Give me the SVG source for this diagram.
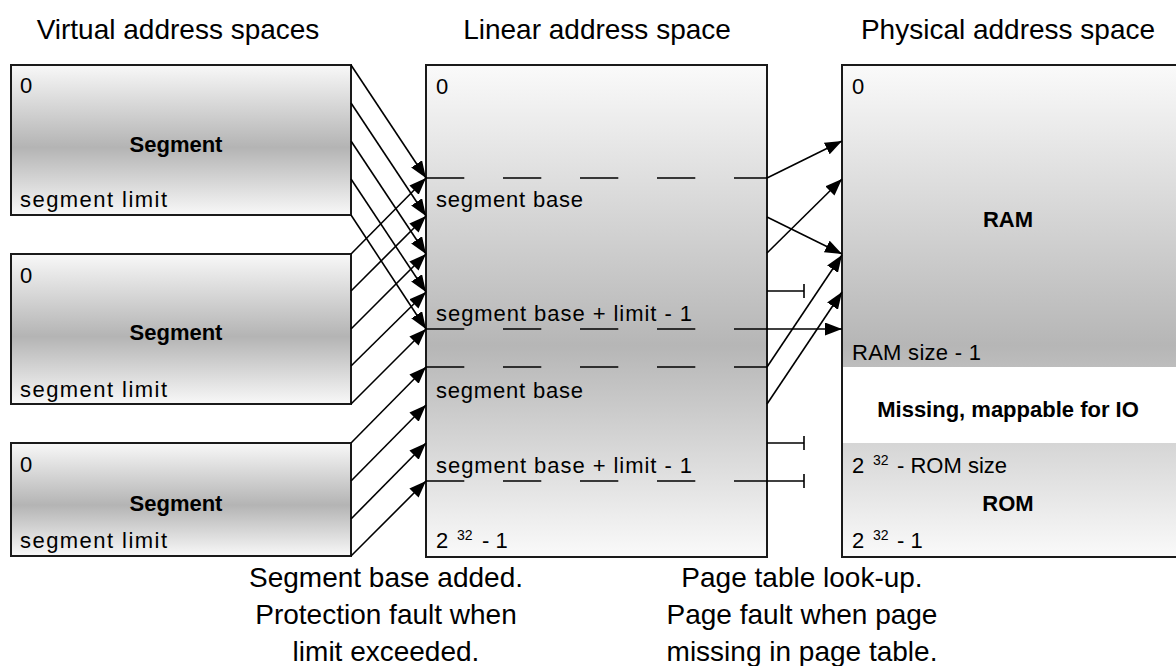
<svg xmlns="http://www.w3.org/2000/svg" width="1176" height="666" viewBox="0 0 1176 666">
<defs>
<style>
text{font-family:"Liberation Sans",Arial,sans-serif;fill:#000}
.lbl{font-size:22px}
.b{font-size:22px;font-weight:bold}
.title{font-size:28px}
.sup{font-size:14px}
.box{stroke:#1a1a1a;stroke-width:2}
.conn{stroke:#000;stroke-width:1.6;fill:none}
.dash{stroke:#000;stroke-width:1.6;fill:none;stroke-dasharray:38.3 38.7}
</style>
<linearGradient id="gSeg" x1="0" y1="0" x2="0" y2="1">
<stop offset="0" stop-color="#f8f8f8"/>
<stop offset="0.55" stop-color="#b4b4b4"/>
<stop offset="1" stop-color="#f8f8f8"/>
</linearGradient>
<linearGradient id="gTall" x1="0" y1="0" x2="0" y2="1">
<stop offset="0" stop-color="#fafafa"/>
<stop offset="0.57" stop-color="#b6b6b6"/>
<stop offset="1" stop-color="#fafafa"/>
</linearGradient>
<marker id="ah" markerUnits="userSpaceOnUse" markerWidth="18" markerHeight="13" refX="17" refY="6.5" orient="auto">
<path d="M0,0 L17,6.5 L0,13 z" fill="#000"/>
</marker>
</defs>

<g id="titles">
<text class="title" x="178" y="39" text-anchor="middle">Virtual address spaces</text>
<text class="title" x="597" y="39" text-anchor="middle">Linear address space</text>
<text class="title" x="1008" y="39" text-anchor="middle">Physical address space</text>
</g>

<g id="segment1">
<rect class="box" x="11" y="65" width="340" height="150" fill="url(#gSeg)"/>
<text class="lbl" x="20" y="93">0</text>
<text class="b" x="176" y="152" text-anchor="middle">Segment</text>
<text class="lbl" x="20" y="207" textLength="147" lengthAdjust="spacing">segment limit</text>
</g>

<g id="segment2">
<rect class="box" x="11" y="254" width="340" height="150" fill="url(#gSeg)"/>
<text class="lbl" x="20" y="283">0</text>
<text class="b" x="176" y="340" text-anchor="middle">Segment</text>
<text class="lbl" x="20" y="397" textLength="147" lengthAdjust="spacing">segment limit</text>
</g>

<g id="segment3">
<rect class="box" x="11" y="443" width="340" height="113" fill="url(#gSeg)"/>
<text class="lbl" x="20" y="472">0</text>
<text class="b" x="176" y="511" text-anchor="middle">Segment</text>
<text class="lbl" x="20" y="548" textLength="147" lengthAdjust="spacing">segment limit</text>
</g>

<g id="linear">
<rect class="box" x="426" y="65" width="341" height="492" fill="url(#gTall)"/>
<line class="dash" x1="426" y1="178" x2="767" y2="178"/>
<line class="dash" x1="426" y1="329" x2="767" y2="329"/>
<line class="dash" x1="426" y1="367" x2="767" y2="367"/>
<line class="dash" x1="426" y1="481" x2="767" y2="481"/>
<text class="lbl" x="436" y="94">0</text>
<text class="lbl" x="436" y="207" textLength="147" lengthAdjust="spacing">segment base</text>
<text class="lbl" x="436" y="321" textLength="256" lengthAdjust="spacing">segment base + limit - 1</text>
<text class="lbl" x="436" y="398" textLength="147" lengthAdjust="spacing">segment base</text>
<text class="lbl" x="436" y="473" textLength="256" lengthAdjust="spacing">segment base + limit - 1</text>
<text class="lbl" x="436" y="548">2<tspan class="sup" x="457" y="540">32</tspan><tspan x="482" y="548">- 1</tspan></text>
</g>

<g id="physical">
<rect x="842" y="65" width="340" height="492" fill="url(#gTall)"/>
<rect x="843" y="367" width="340" height="76" fill="#ffffff"/>
<rect class="box" x="842" y="65" width="340" height="492" fill="none"/>
<text class="lbl" x="852" y="94">0</text>
<text class="b" x="1008" y="227" text-anchor="middle">RAM</text>
<text class="lbl" x="852" y="360" textLength="129" lengthAdjust="spacing">RAM size - 1</text>
<text class="b" x="1008" y="417" text-anchor="middle">Missing, mappable for IO</text>
<text class="lbl" x="852" y="473">2<tspan class="sup" x="873" y="465">32</tspan><tspan x="897" y="473">- ROM size</tspan></text>
<text class="b" x="1008" y="511" text-anchor="middle">ROM</text>
<text class="lbl" x="852" y="548">2<tspan class="sup" x="873" y="540">32</tspan><tspan x="897" y="548">- 1</tspan></text>
</g>

<g id="connectors">
<line class="conn" x1="351" y1="65" x2="426" y2="178" marker-end="url(#ah)"/>
<line class="conn" x1="351" y1="103" x2="426" y2="216" marker-end="url(#ah)"/>
<line class="conn" x1="351" y1="141" x2="426" y2="254" marker-end="url(#ah)"/>
<line class="conn" x1="351" y1="179" x2="426" y2="292" marker-end="url(#ah)"/>
<line class="conn" x1="351" y1="215" x2="426" y2="329" marker-end="url(#ah)"/>
<line class="conn" x1="351" y1="254" x2="426" y2="178" marker-end="url(#ah)"/>
<line class="conn" x1="351" y1="291" x2="426" y2="216" marker-end="url(#ah)"/>
<line class="conn" x1="351" y1="329" x2="426" y2="254" marker-end="url(#ah)"/>
<line class="conn" x1="351" y1="366" x2="426" y2="292" marker-end="url(#ah)"/>
<line class="conn" x1="351" y1="404" x2="426" y2="329" marker-end="url(#ah)"/>
<line class="conn" x1="351" y1="443" x2="426" y2="367" marker-end="url(#ah)"/>
<line class="conn" x1="351" y1="481" x2="426" y2="405" marker-end="url(#ah)"/>
<line class="conn" x1="351" y1="519" x2="426" y2="443" marker-end="url(#ah)"/>
<line class="conn" x1="351" y1="556" x2="426" y2="481" marker-end="url(#ah)"/>
<line class="conn" x1="767" y1="178" x2="842" y2="141" marker-end="url(#ah)"/>
<line class="conn" x1="767" y1="217" x2="842" y2="254" marker-end="url(#ah)"/>
<line class="conn" x1="767" y1="253" x2="842" y2="179" marker-end="url(#ah)"/>
<line class="conn" x1="767" y1="291" x2="804" y2="291"/>
<line class="conn" x1="804" y1="284" x2="804" y2="298"/>
<line class="conn" x1="767" y1="329" x2="842" y2="329" marker-end="url(#ah)"/>
<line class="conn" x1="767" y1="367" x2="842" y2="255" marker-end="url(#ah)"/>
<line class="conn" x1="767" y1="404" x2="842" y2="292" marker-end="url(#ah)"/>
<line class="conn" x1="767" y1="443" x2="804" y2="443"/>
<line class="conn" x1="804" y1="436" x2="804" y2="450"/>
<line class="conn" x1="767" y1="481" x2="804" y2="481"/>
<line class="conn" x1="804" y1="474" x2="804" y2="488"/>
</g>

<g id="captions">
<text class="title" x="386" y="587" text-anchor="middle">Segment base added.</text>
<text class="title" x="386" y="624" text-anchor="middle">Protection fault when</text>
<text class="title" x="386" y="661" text-anchor="middle">limit exceeded.</text>
<text class="title" x="802" y="587" text-anchor="middle">Page table look-up.</text>
<text class="title" x="802" y="624" text-anchor="middle">Page fault when page</text>
<text class="title" x="802" y="661" text-anchor="middle">missing in page table.</text>
</g>
</svg>
